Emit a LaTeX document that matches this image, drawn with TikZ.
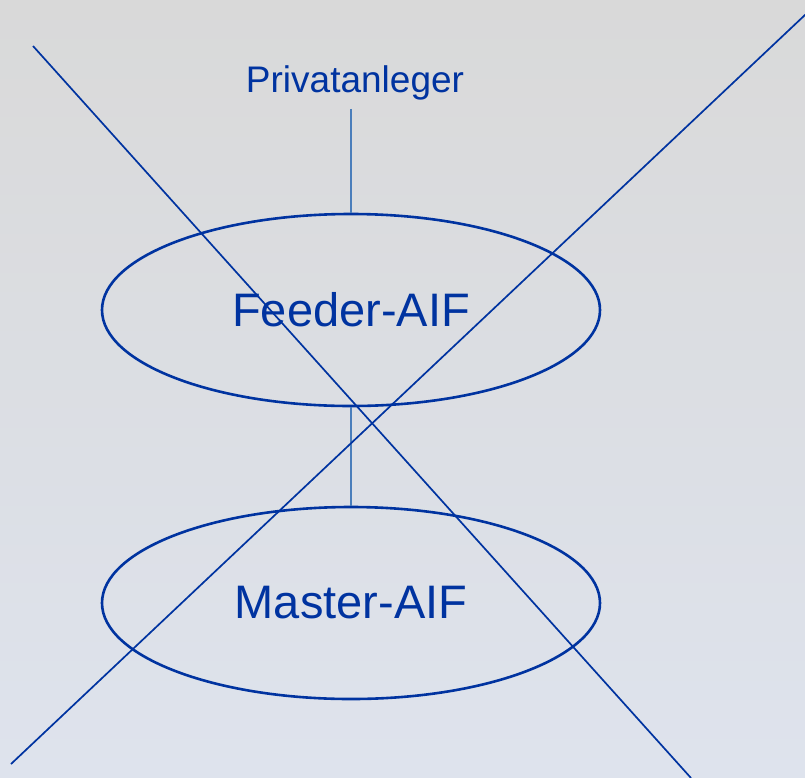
\documentclass[tikz,border=0pt]{standalone}
\usepackage{fontspec}
\setmainfont{Liberation Sans}
\usetikzlibrary{shapes.geometric}
\definecolor{dblue}{RGB}{0,51,160}
\definecolor{lblue}{RGB}{74,126,187}
\definecolor{bgtop}{RGB}{217,217,217}
\definecolor{bgbot}{RGB}{222,227,237}
\tikzset{
  fund/.style={ellipse, draw=dblue, line width=2.6pt, minimum width=498pt, minimum height=192pt,
    inner sep=0pt, text=dblue, font=\fontsize{47}{50}\selectfont},
  label/.style={text=dblue, font=\fontsize{37}{40}\selectfont, inner sep=9pt},
  link/.style={draw=lblue, line width=2.3pt},
  cross/.style={draw=dblue, line width=1.7pt}
}
\begin{document}
\begin{tikzpicture}[x=1pt,y=-1pt]
\fill[top color=bgtop, bottom color=bgbot] (0,0) rectangle (805,777);
\useasboundingbox (0,0) rectangle (805,777);
\node[label, anchor=base] (priv) at (355,92) {Privatanleger};
\node[fund] (feeder) at (351,310) {Feeder-AIF};
\node[fund] (master) at (351,603) {Master-AIF};
\draw[link] (priv.south -| feeder.north) -- (feeder.north);
\draw[link] (feeder.south) -- (master.north);
\coordinate (c1a) at (33,46);
\coordinate (c1b) at (691,778);
\coordinate (c2a) at (11,764);
\coordinate (c2b) at (806,14);
\draw[cross] (c1a) -- (c1b);
\draw[cross] (c2a) -- (c2b);
\end{tikzpicture}
\end{document}
